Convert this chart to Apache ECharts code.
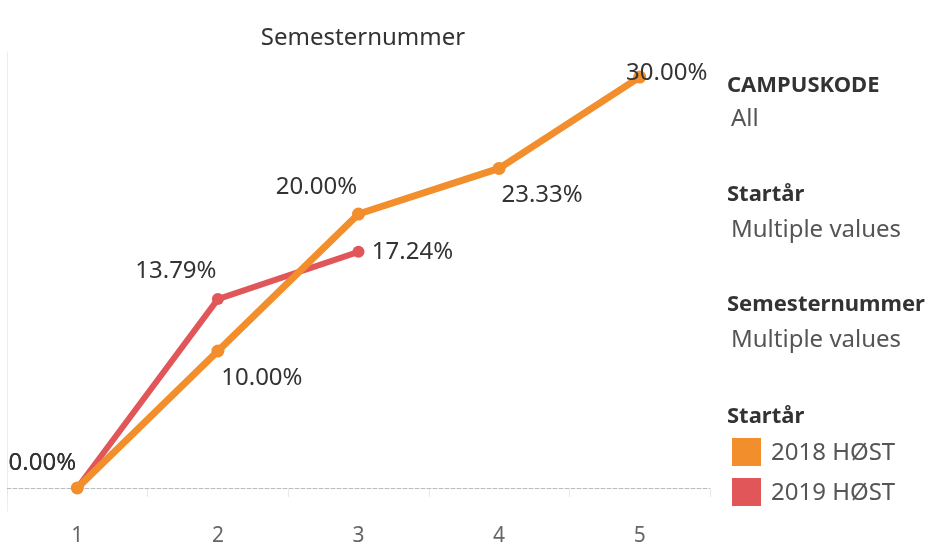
<!DOCTYPE html>
<html>
<head>
<meta charset="utf-8">
<script src="https://cdn.jsdelivr.net/npm/echarts@6/dist/echarts.min.js"></script>
<style>
html,body{margin:0;padding:0;background:#fff;}
#chart{width:932px;height:547px;}
</style>
</head>
<body>
<div id="chart"></div>
<script>
var semester = ['1', '2', '3', '4', '5'];
var host2018 = [0, 10.00, 20.00, 23.33, 30.00];
var host2019 = [0, 13.79, 17.24];
var seriesNames = ['2018 HØST', '2019 HØST'];

var orange = '#f28e2b';
var red = '#e15759';

// label offsets (centered on the point, then shifted)
var off2018 = [[-35, -25], [44, 27], [-42, -27], [43, 27], [27, -4]];
var off2019 = [[-35, -25], [-42, -28], [54, 0]];

function toPoints(vals, offs) {
    var arr = [];
    for (var i = 0; i < vals.length; i++) {
        arr.push({
            value: vals[i],
            label: {position: 'inside', offset: offs[i]}
        });
    }
    return arr;
}

var myChart = echarts.init(document.getElementById('chart'));

function head(txt, y) {
    return {type: 'text', x: 727, y: y, style: {text: txt, font: 'bold 22px "Noto Sans"', fill: '#333', verticalAlign: 'middle'}};
}
function val(txt, x, y) {
    return {type: 'text', x: x, y: y, style: {text: txt, font: '24px "Noto Sans"', fill: '#555', verticalAlign: 'middle'}};
}

var option = {
    animation: false,
    textStyle: {fontFamily: 'Noto Sans'},
    grid: {left: 7, right: 222, top: 52, bottom: 36},
    title: {
        text: 'Semesternummer',
        left: 358, top: 21, textAlign: 'center',
        textStyle: {fontFamily: 'Noto Sans', fontSize: 24, fontWeight: 'normal', color: '#333'}
    },
    xAxis: {
        type: 'category',
        data: semester,
        boundaryGap: true,
        axisLine: {lineStyle: {color: '#e8e8e8', width: 1}},
        axisTick: {show: true, length: 9, lineStyle: {color: '#e8e8e8'}},
        axisLabel: {color: '#666', fontSize: 21, margin: 15, fontFamily: 'Noto Sans'},
        splitLine: {show: false}
    },
    yAxis: {
        type: 'value',
        min: -1.68,
        max: 31.83,
        axisLine: {show: true, lineStyle: {color: '#eeeeee'}},
        axisTick: {show: false},
        axisLabel: {show: false},
        splitLine: {show: false}
    },
    series: [
        {
            name: seriesNames[1],
            type: 'line',
            z: 2,
            data: toPoints(host2019, off2019),
            symbol: 'circle',
            symbolSize: 12,
            lineStyle: {color: red, width: 6},
            itemStyle: {color: red},
            label: {
                show: true, fontSize: 24, color: '#333', fontFamily: 'Noto Sans',
                formatter: function (p) { return p.value.toFixed(2) + '%'; }
            }
        },
        {
            name: seriesNames[0],
            type: 'line',
            z: 3,
            data: toPoints(host2018, off2018),
            symbol: 'circle',
            symbolSize: 13,
            lineStyle: {color: orange, width: 7},
            itemStyle: {color: orange},
            label: {
                show: true, fontSize: 24, color: '#333', fontFamily: 'Noto Sans',
                formatter: function (p) { return p.value.toFixed(2) + '%'; }
            },
            markLine: {
                silent: true,
                symbol: 'none',
                z: 1,
                label: {show: false},
                lineStyle: {color: '#bbbbbb', type: 'dashed', width: 1},
                data: [{yAxis: 0}]
            }
        }
    ],
    graphic: [
        head('CAMPUSKODE', 86),
        val('All', 731, 119),
        head('Startår', 195),
        val('Multiple values', 731, 230),
        head('Semesternummer', 305),
        val('Multiple values', 731, 340),
        head('Startår', 417),
        {type: 'rect', shape: {x: 732, y: 438, width: 29, height: 28}, style: {fill: orange}},
        val(seriesNames[0], 771, 453),
        {type: 'rect', shape: {x: 732, y: 478, width: 29, height: 28}, style: {fill: red}},
        val(seriesNames[1], 771, 493)
    ]
};

myChart.setOption(option);
</script>
</body>
</html>
